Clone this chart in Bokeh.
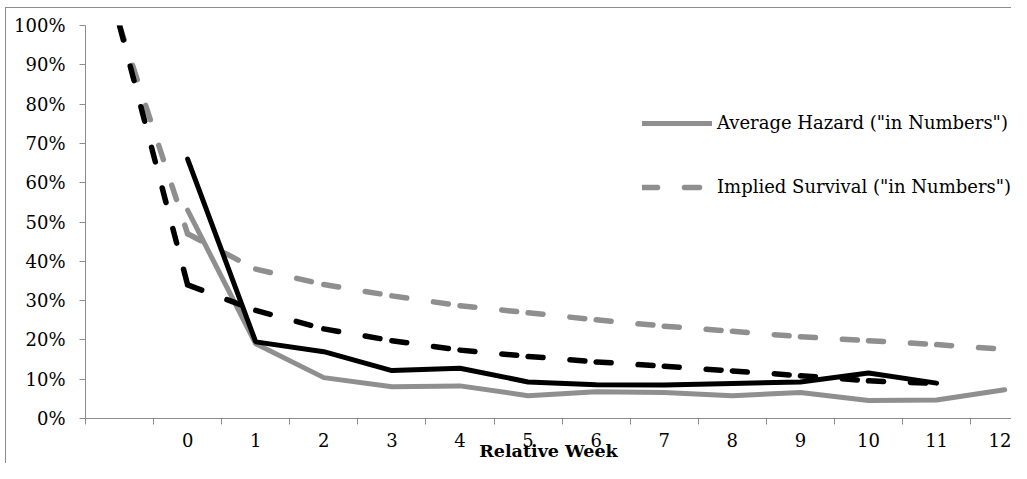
from bokeh.plotting import figure
from bokeh.models import (ColumnDataSource, Range1d, FixedTicker, NumeralTickFormatter,
                          Legend, LegendItem)
from bokeh.embed import file_html
from bokeh.resources import INLINE

# ---------------- data ----------------
# category axis: a blank leading category, then relative weeks 0..12
category_labels = ["", "0", "1", "2", "3", "4", "5", "6", "7", "8", "9", "10", "11", "12"]
category_pos = [-1, 0, 1, 2, 3, 4, 5, 6, 7, 8, 9, 10, 11, 12]

y_tick_values = [0.0, 0.1, 0.2, 0.3, 0.4, 0.5, 0.6, 0.7, 0.8, 0.9, 1.0]

# Average Hazard ("in Numbers")  - grey solid, weeks 0..12
hazard_numbers_x = [0, 1, 2, 3, 4, 5, 6, 7, 8, 9, 10, 11, 12]
hazard_numbers = [0.53, 0.19, 0.104, 0.081, 0.083, 0.058, 0.068, 0.066, 0.058, 0.066, 0.046, 0.047, 0.073]

# Implied Survival ("in Numbers") - grey dashed, blank..12
survival_numbers_x = [-1, 0, 1, 2, 3, 4, 5, 6, 7, 8, 9, 10, 11, 12]
survival_numbers = [1.0, 0.47, 0.38, 0.341, 0.312, 0.287, 0.269, 0.251, 0.235, 0.222, 0.208, 0.198, 0.188, 0.176]

# second hazard series - black solid, weeks 0..11
hazard_value_x = [0, 1, 2, 3, 4, 5, 6, 7, 8, 9, 10, 11]
hazard_value = [0.66, 0.195, 0.17, 0.122, 0.128, 0.093, 0.086, 0.085, 0.089, 0.093, 0.116, 0.09]

# second implied survival series - black dashed, blank..11
survival_value_x = [-1, 0, 1, 2, 3, 4, 5, 6, 7, 8, 9, 10, 11]
survival_value = [1.0, 0.34, 0.275, 0.228, 0.198, 0.174, 0.158, 0.144, 0.133, 0.121, 0.109, 0.096, 0.089]

legend_labels = ['Average Hazard ("in Numbers")', 'Implied Survival ("in Numbers")']
x_title = "Relative Week"

# ---------------- styling ----------------
GREY = "#8f8f8f"
AXIS = "#8c8c8c"
FONT = "DejaVu Serif"
DASH = "15 27"
LW = 5


def seg_source(xs, ys):
    return ColumnDataSource(dict(x0=xs[:-1], y0=ys[:-1], x1=xs[1:], y1=ys[1:]))


p = figure(width=1011, height=463, output_backend="svg", toolbar_location=None,
           x_range=Range1d(-1.5, 12.1), y_range=Range1d(0, 1),
           min_border_left=85, min_border_right=0, min_border_top=25, min_border_bottom=45,
           background_fill_color="white", border_fill_alpha=0,
           outline_line_color=None)
p.styles = {
    "background": ("linear-gradient(#8c8c8c, #8c8c8c) 5px 7px / 1px 100% no-repeat, "
                   "linear-gradient(#8c8c8c, #8c8c8c) 5px 7px / 100% 1px no-repeat, white"),
}
p.xgrid.visible = False
p.ygrid.visible = False

# grey dashed (dash pattern restarts at each vertex, as in the original)
r_gd = p.segment("x0", "y0", "x1", "y1", source=seg_source(survival_numbers_x, survival_numbers),
                 line_color=GREY, line_width=5.5, line_dash=DASH, line_cap="round")
# grey solid
r_gs = p.line(hazard_numbers_x, hazard_numbers, line_color=GREY, line_width=LW, line_cap="round")
# black dashed
r_bd = p.segment("x0", "y0", "x1", "y1", source=seg_source(survival_value_x, survival_value),
                 line_color="black", line_width=5.5, line_dash=DASH, line_cap="round")
# black solid
r_bs = p.line(hazard_value_x, hazard_value, line_color="black", line_width=LW, line_cap="round")

# x axis: labels at category centres, tick marks between categories
xa = p.xaxis[0]
xa.ticker = FixedTicker(ticks=category_pos,
                        minor_ticks=[c - 0.5 for c in category_pos] + [category_pos[-1] + 0.5])
xa.major_label_overrides = {c: lab for c, lab in zip(category_pos, category_labels)}
xa.major_tick_line_color = None
xa.major_tick_out = 6
xa.major_tick_in = 0
xa.minor_tick_out = 6
xa.minor_tick_in = 0
xa.minor_tick_line_color = AXIS
xa.axis_line_color = AXIS
xa.major_label_text_font = FONT
xa.major_label_text_font_size = "18px"
xa.major_label_text_color = "black"
xa.major_label_standoff = 8
xa.axis_label = x_title
xa.axis_label_text_font = FONT
xa.axis_label_text_font_style = "bold"
xa.axis_label_text_font_size = "17.5px"
xa.axis_label_text_color = "black"
xa.axis_label_standoff = -9

ya = p.yaxis[0]
ya.ticker = FixedTicker(ticks=y_tick_values, minor_ticks=[])
ya.formatter = NumeralTickFormatter(format="0%")
ya.major_tick_out = 6
ya.major_tick_in = 0
ya.minor_tick_line_color = None
ya.major_tick_line_color = AXIS
ya.axis_line_color = AXIS
ya.major_label_text_font = FONT
ya.major_label_text_font_size = "18px"
ya.major_label_text_color = "black"
ya.major_label_standoff = 14

legend = Legend(items=[LegendItem(label=legend_labels[0], renderers=[r_gs]),
                       LegendItem(label=legend_labels[1], renderers=[r_gd])],
                location=(557, 221), orientation="vertical",
                glyph_width=70, glyph_height=20, label_height=20, label_standoff=5,
                spacing=43, padding=0, margin=0,
                label_text_font=FONT, label_text_font_size="18px", label_text_color="black",
                background_fill_alpha=0, border_line_alpha=0)
p.add_layout(legend, "center")

open("out.html", "w").write(file_html(p, INLINE))
